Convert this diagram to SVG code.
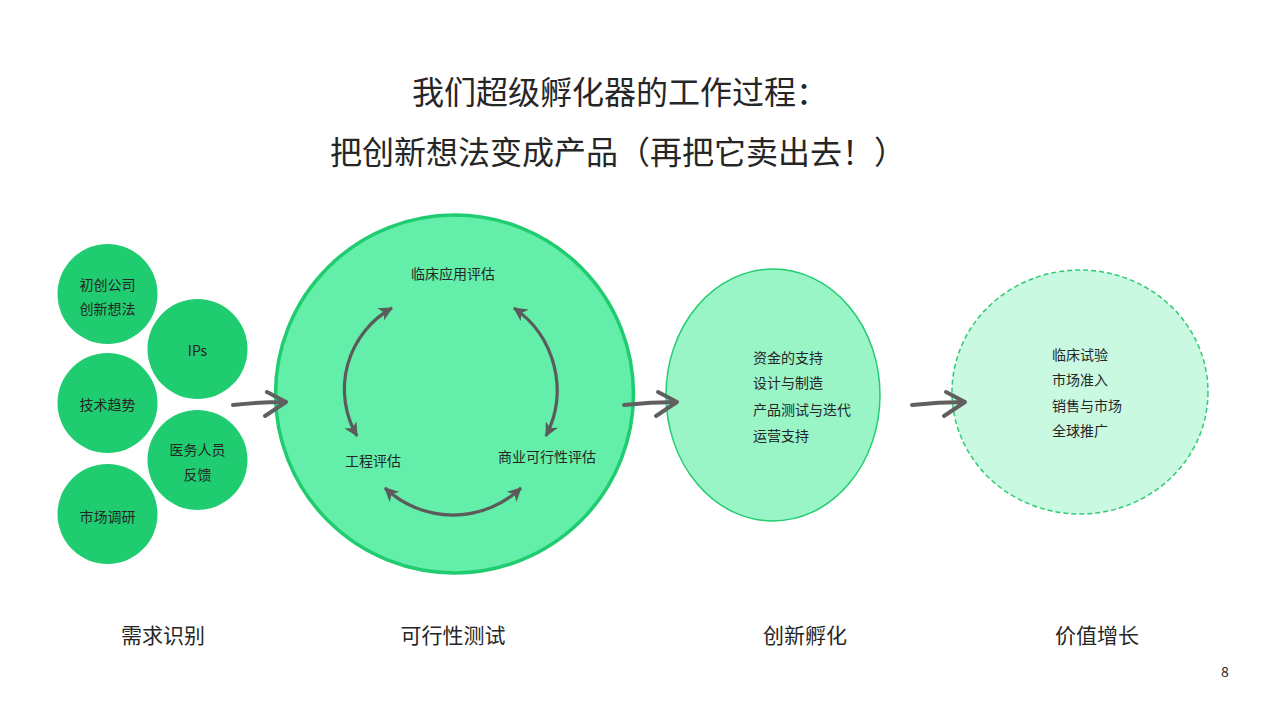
<svg xmlns="http://www.w3.org/2000/svg" width="1268" height="709" viewBox="0 0 1268 709">
<style>
text{font-family:"Noto Sans CJK SC","Microsoft YaHei",sans-serif;fill:#262626}
.title{font-size:32px}
.lbl{font-size:14px}
.mid{text-anchor:middle}
.stage{font-size:21px;text-anchor:middle}
.small{fill:#1fcc6f}
.arc{fill:none;stroke:#5b5b5b;stroke-width:3.2}
.conn{fill:none;stroke:#606060;stroke-width:4;stroke-linecap:round;stroke-linejoin:round}
</style>
<defs>
<marker id="ah" markerUnits="userSpaceOnUse" markerWidth="16" markerHeight="14" refX="13" refY="7" orient="auto-start-reverse" viewBox="0 0 16 14">
<path d="M0,0 L14,7 L0,14 L4,7 Z" fill="#5b5b5b"/>
</marker>
</defs>
<rect width="1268" height="709" fill="#ffffff"/>
<g id="title">
<text class="title mid" x="620" y="104">我们超级孵化器的工作过程：</text>
<text class="title mid" x="618" y="164">把创新想法变成产品（再把它卖出去！）</text>
</g>
<g id="need">
<circle class="small" cx="107.5" cy="294" r="50"/>
<text class="lbl mid" x="107.5" y="290">初创公司</text>
<text class="lbl mid" x="107.5" y="314">创新想法</text>
</g>
<g id="ips">
<circle class="small" cx="197.5" cy="349" r="50"/>
<text class="lbl mid" x="197.5" y="356">IPs</text>
</g>
<g id="tech">
<circle class="small" cx="107.5" cy="403" r="50"/>
<text class="lbl mid" x="107.5" y="410">技术趋势</text>
</g>
<g id="medical">
<circle class="small" cx="197.5" cy="460" r="50"/>
<text class="lbl mid" x="197.5" y="455">医务人员</text>
<text class="lbl mid" x="197.5" y="480">反馈</text>
</g>
<g id="market">
<circle class="small" cx="107.5" cy="514" r="50"/>
<text class="lbl mid" x="107.5" y="522">市场调研</text>
</g>
<g id="feasibility">
<circle cx="454.5" cy="394" r="179" fill="#63eea9" stroke="#1fcc6f" stroke-width="3.5"/>
<text class="lbl mid" x="453" y="279">临床应用评估</text>
<text class="lbl mid" x="373" y="466">工程评估</text>
<text class="lbl mid" x="547" y="462">商业可行性评估</text>
</g>
<g id="incubation">
<ellipse cx="773" cy="395" rx="107" ry="126" fill="#99f4c6" stroke="#22cc70" stroke-width="1.5"/>
<text class="lbl" x="753" y="363">资金的支持</text>
<text class="lbl" x="753" y="388">设计与制造</text>
<text class="lbl" x="753" y="415">产品测试与迭代</text>
<text class="lbl" x="753" y="441">运营支持</text>
</g>
<g id="growth">
<ellipse cx="1080" cy="392" rx="128" ry="122" fill="#c9f9e1" stroke="#2ecc71" stroke-width="1.5" stroke-dasharray="5,3"/>
<text class="lbl" x="1052" y="360">临床试验</text>
<text class="lbl" x="1052" y="385">市场准入</text>
<text class="lbl" x="1052" y="411">销售与市场</text>
<text class="lbl" x="1052" y="436">全球推广</text>
</g>
<g id="connectors">
<path class="arc" d="M392,308 A93,93 0 0 0 357,436" marker-start="url(#ah)" marker-end="url(#ah)"/>
<path class="arc" d="M514,308 A100,100 0 0 1 546,436" marker-start="url(#ah)" marker-end="url(#ah)"/>
<path class="arc" d="M385,488 A99,99 0 0 0 521,488" marker-start="url(#ah)" marker-end="url(#ah)"/>
<path class="conn" d="M233,405 Q260,402 286,402 M267,392 L286,402 L265,416"/>
<path class="conn" d="M624,405 Q651,402 677,402 M658,392 L677,402 L656,416"/>
<path class="conn" d="M912,405 Q939,402 965,402 M946,392 L965,402 L944,416"/>
</g>
<g id="stages">
<text class="stage" x="163" y="643">需求识别</text>
<text class="stage" x="453" y="643">可行性测试</text>
<text class="stage" x="805" y="643">创新孵化</text>
<text class="stage" x="1097" y="643">价值增长</text>
</g>
<text class="lbl mid" x="1225" y="677">8</text>
</svg>
